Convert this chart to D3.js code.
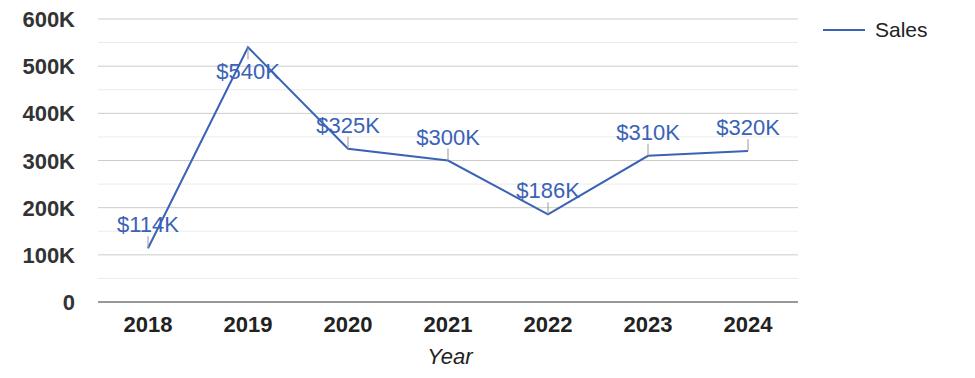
<!DOCTYPE html>
<html>
<head>
<meta charset="utf-8">
<script src="https://cdn.jsdelivr.net/npm/d3@7"></script>
<style>
  body { margin: 0; background: #fff; }
  text { font-family: "Liberation Sans", Arial, sans-serif; }
</style>
</head>
<body>
<div id="chart"></div>
<script>
const years = ["2018", "2019", "2020", "2021", "2022", "2023", "2024"];
const sales = [114000, 540000, 325000, 300000, 186000, 310000, 320000];
const yTicks = [0, 100000, 200000, 300000, 400000, 500000, 600000];

const W = 975, H = 378;
const margin = { top: 19, right: 177, bottom: 76, left: 98 };
const width = W - margin.left - margin.right;
const height = H - margin.top - margin.bottom;

const svg = d3.select("#chart").append("svg")
  .attr("width", W).attr("height", H);
const g = svg.append("g").attr("transform", `translate(${margin.left},${margin.top})`);

const x = d3.scaleBand().domain(years).range([0, 700]);
const y = d3.scaleLinear().domain([0, 600000]).range([height, 0]);

// minor gridlines
const minor = d3.range(50000, 600000, 100000);
g.selectAll(".minor").data(minor).enter().append("line")
  .attr("x1", 0).attr("x2", 700)
  .attr("y1", d => y(d)).attr("y2", d => y(d))
  .attr("stroke", "#ebebeb");

// major gridlines
g.selectAll(".major").data(yTicks.slice(1)).enter().append("line")
  .attr("x1", 0).attr("x2", 700)
  .attr("y1", d => y(d)).attr("y2", d => y(d))
  .attr("stroke", "#cccccc");

// y labels
const fmtK = d => d === 0 ? "0" : (d / 1000) + "K";
g.selectAll(".ylab").data(yTicks).enter().append("text")
  .attr("x", -23).attr("y", d => y(d) + 8)
  .attr("text-anchor", "end")
  .style("font-size", "22px").style("font-weight", "bold")
  .attr("fill", "#333")
  .text(fmtK);

// baseline
g.append("line")
  .attr("x1", 0).attr("x2", 700)
  .attr("y1", y(0)).attr("y2", y(0))
  .attr("stroke", "#333");

// x labels
g.selectAll(".xlab").data(years).enter().append("text")
  .attr("x", d => x(d) + x.bandwidth() / 2)
  .attr("y", height + 30)
  .attr("text-anchor", "middle")
  .style("font-size", "22px").style("font-weight", "bold")
  .attr("fill", "#222")
  .text(d => d);

// axis title
g.append("text")
  .attr("x", 352).attr("y", height + 62)
  .attr("text-anchor", "middle")
  .style("font-size", "22px").style("font-style", "italic")
  .attr("fill", "#222")
  .text("Year");

const data = years.map((yr, i) => ({ year: yr, value: sales[i] }));
const cx = d => x(d.year) + x.bandwidth() / 2;

// line
const line = d3.line().x(cx).y(d => y(d.value));
g.append("path").datum(data)
  .attr("d", line)
  .attr("fill", "none")
  .attr("stroke", "#3a62b5")
  .attr("stroke-width", 2);

// annotations
const fmtLab = d => "$" + Math.round(d / 1000) + "K";
data.forEach(d => {
  const py = y(d.value);
  const below = py - 34 < 0;
  const stemEnd = below ? py + 12 : py - 12;
  g.append("line")
    .attr("x1", cx(d)).attr("x2", cx(d))
    .attr("y1", py).attr("y2", stemEnd)
    .attr("stroke", "#999").attr("stroke-width", 1);
  g.append("text")
    .attr("x", cx(d))
    .attr("y", below ? py + 32 : py - 16)
    .attr("text-anchor", "middle")
    .style("font-size", "22px")
    .attr("fill", "#3a62b5")
    .text(fmtLab(d.value));
});

// legend
svg.append("line")
  .attr("x1", 823).attr("x2", 865)
  .attr("y1", 30).attr("y2", 30)
  .attr("stroke", "#3a62b5").attr("stroke-width", 2);
svg.append("text")
  .attr("x", 875).attr("y", 37)
  .style("font-size", "21px")
  .attr("fill", "#222")
  .text("Sales");
</script>
</body>
</html>
